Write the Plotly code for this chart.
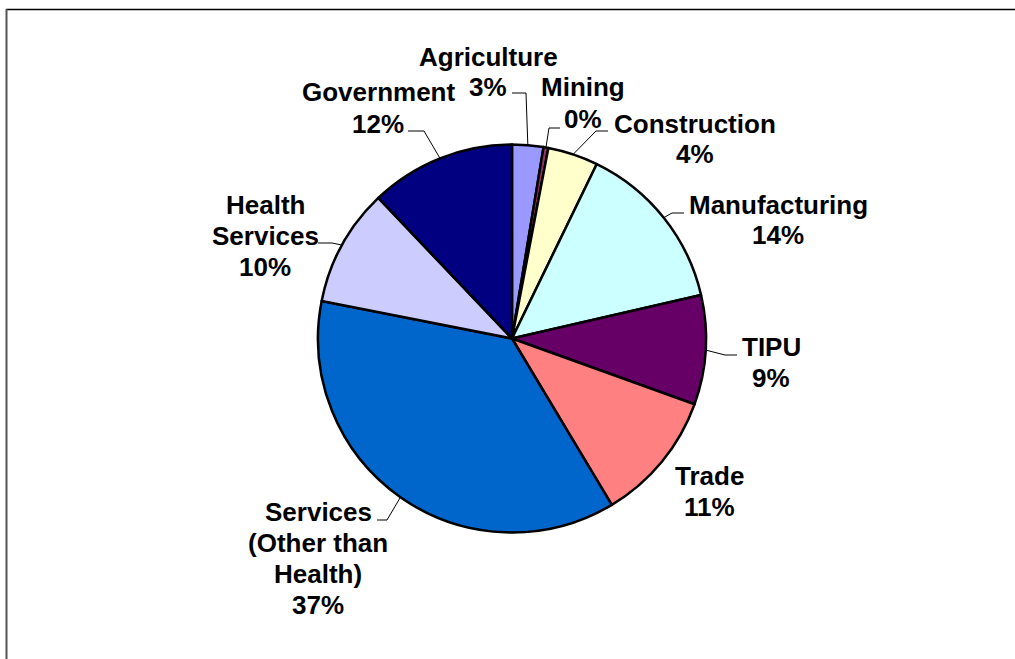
import math
import plotly.graph_objects as go

# ---- data ----
categories = ["Agriculture", "Mining", "Construction", "Manufacturing", "TIPU",
              "Trade", "Services (Other than Health)", "Health Services", "Government"]
shares = [2.6, 0.4, 4.2, 14.2, 9.1, 10.9, 36.7, 9.8, 12.1]
label_lines = [["Agriculture"], ["Mining"], ["Construction"], ["Manufacturing"], ["TIPU"],
               ["Trade"], ["Services", "(Other than", "Health)"], ["Health", "Services"],
               ["Government"]]
colors = ["#9999FF", "#993366", "#FFFFCC", "#CCFFFF", "#660066",
          "#FF8080", "#0066CC", "#CCCCFF", "#000080"]

# ---- layout constants (pixels) ----
W, H = 1015, 659
CX, CY, R = 512, 338.5, 194
FONT = dict(family="Liberation Sans, Arial, sans-serif", size=26, color="black")
LINE_H = 31
# label block centres
label_pos = [(488, 72), (583, 103), (695, 139), (778, 220), (771, 362),
             (709, 491), (318, 558), (265, 236), (378, 108)]
# leader: (elbow x, end x, y) or None
leaders = [(526, 512, 93), (549, 560, 128), (596, 608, 131), (672, 684, 213),
           (725, 737, 355), None, (387, 377, 520), (332, 318, 243), (424, 408, 131)]


def px(x):
    return x / W


def py(y):
    return 1 - y / H


fig = go.Figure()
fig.add_trace(go.Pie(
    labels=categories, values=shares, sort=False, direction="clockwise", rotation=0,
    marker=dict(colors=colors, line=dict(color="black", width=2.5)),
    textinfo="none", hoverinfo="none", showlegend=False,
    domain=dict(x=[px(CX - R), px(CX + R)], y=[py(CY + R), py(CY - R)]),
))

total = sum(shares)
annotations = []
shapes = []
cum = 0.0
for i, v in enumerate(shares):
    mid = (cum + v / 2) / total * 2 * math.pi
    cum += v
    pct = round(v / total * 100)
    lines = label_lines[i] + [f"{pct}%"]
    lx, ly = label_pos[i]
    n = len(lines)
    for k, t in enumerate(lines):
        yy = ly + (k - (n - 1) / 2) * LINE_H
        annotations.append(dict(x=px(lx), y=py(yy), xref="paper", yref="paper",
                                text=f"<b>{t}</b>", showarrow=False, font=FONT,
                                xanchor="center", yanchor="middle"))
    if leaders[i] is not None:
        ex0 = CX + R * math.sin(mid)
        ey0 = CY - R * math.cos(mid)
        bx, ex, ly2 = leaders[i]
        shapes.append(dict(type="line", xref="paper", yref="paper",
                           x0=px(ex0), y0=py(ey0), x1=px(bx), y1=py(ly2),
                           line=dict(color="black", width=1)))
        shapes.append(dict(type="line", xref="paper", yref="paper",
                           x0=px(bx), y0=py(ly2), x1=px(ex), y1=py(ly2),
                           line=dict(color="black", width=1)))

# frame lines (top and left)
shapes.append(dict(type="line", xref="paper", yref="paper", x0=px(6), y0=py(9.5),
                   x1=1, y1=py(9.5), line=dict(color="black", width=1.5)))
shapes.append(dict(type="line", xref="paper", yref="paper", x0=px(6.5), y0=py(9),
                   x1=px(6.5), y1=0, line=dict(color="#555555", width=2)))

fig.update_layout(width=W, height=H, margin=dict(l=0, r=0, t=0, b=0),
                  paper_bgcolor="white", plot_bgcolor="white",
                  annotations=annotations, shapes=shapes)

fig.write_html("out.html", config={"displayModeBar": False},
               post_script="document.body.style.margin='0';")
